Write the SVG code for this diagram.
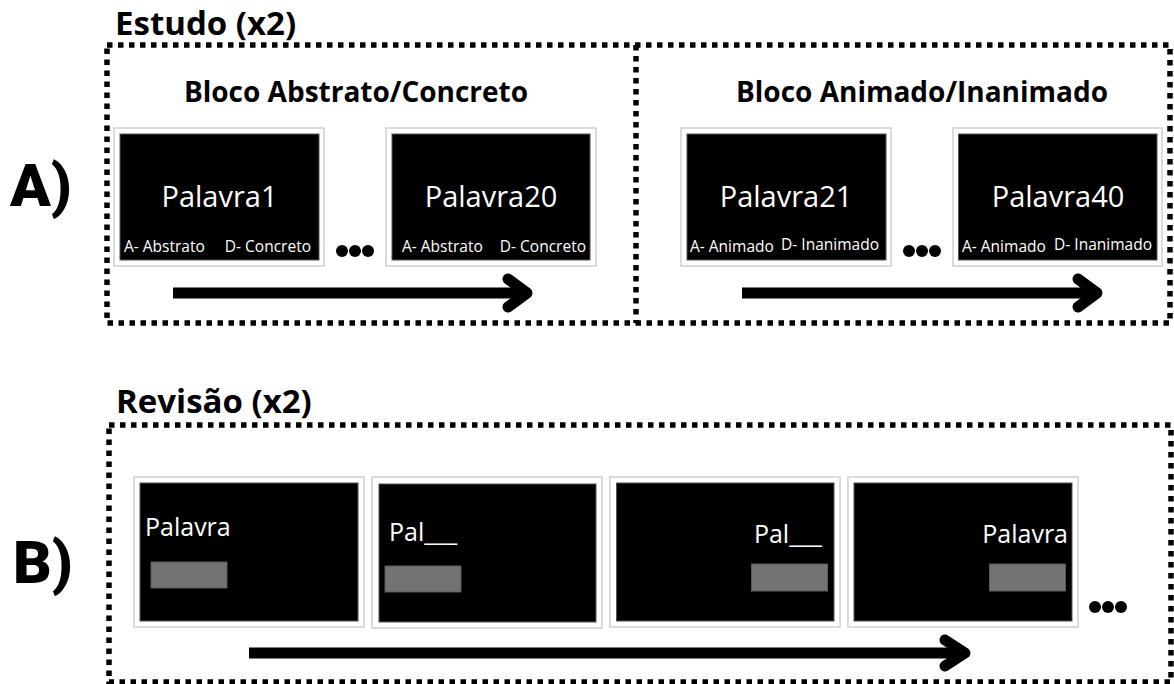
<svg xmlns="http://www.w3.org/2000/svg" width="1174" height="684" viewBox="0 0 1174 684">
<style>
.bg{fill:#fff}
.dotted{fill:none;stroke:#000;stroke-width:5.5;stroke-dasharray:5.5 5.5}
.frame{fill:#fff;stroke:#d0d0d0;stroke-width:1.5}
.screen{fill:#000;stroke:#555;stroke-width:1}
.gray{fill:#737373;stroke:#5a5a5a;stroke-width:1}
.title{font-family:"Open Sans","Liberation Sans",sans-serif;font-weight:700;fill:#000}
.t28{font-size:33px}
.t25{font-size:28px}
.word{font-family:"Open Sans","Liberation Sans",sans-serif;fill:#fff;font-size:29px}
.wordB{font-family:"Open Sans","Liberation Sans",sans-serif;fill:#fff;font-size:25px}
.lab{font-family:"Open Sans","Liberation Sans",sans-serif;fill:#fff;font-size:15.5px}
.big{font-family:Roboto,"Liberation Sans",sans-serif;font-weight:900;font-size:60px;fill:#000}
.line{fill:none;stroke:#000;stroke-width:11}
.head{fill:none;stroke:#000;stroke-width:11;stroke-linecap:round;stroke-linejoin:round}
.dot{fill:#000}
</style>
<rect class="bg" x="0" y="0" width="1174" height="684"/>

<g id="labelA"><text class="big" x="10" y="206">A)</text></g>
<g id="labelB"><text class="big" x="13" y="583">B)</text></g>

<g id="estudo">
<text class="title t28" x="115" y="35">Estudo (x2)</text>
<rect class="dotted" x="107" y="45" width="1063" height="278"/>
<line class="dotted" x1="636" y1="45" x2="636" y2="323"/>
</g>

<g id="blocoAC">
<text class="title t25" x="356" y="102" text-anchor="middle">Bloco Abstrato/Concreto</text>
</g>
<g id="blocoAI">
<text class="title t25" x="922" y="102" text-anchor="middle">Bloco Animado/Inanimado</text>
</g>

<g id="card1">
<rect class="frame" x="114" y="128" width="210" height="138"/>
<rect class="screen" x="120" y="134" width="199" height="126"/>
<text class="word" x="219.5" y="207" text-anchor="middle">Palavra1</text>
<text class="lab" x="124" y="252">A- Abstrato</text>
<text class="lab" x="311" y="252" text-anchor="end">D- Concreto</text>
</g>
<g id="dotsA1">
<circle class="dot" cx="342" cy="251" r="6"/><circle class="dot" cx="355" cy="251" r="6"/><circle class="dot" cx="368" cy="251" r="6"/>
</g>
<g id="card20">
<rect class="frame" x="386" y="128" width="210" height="138"/>
<rect class="screen" x="392" y="134" width="198" height="126"/>
<text class="word" x="491" y="207" text-anchor="middle">Palavra20</text>
<text class="lab" x="402" y="252">A- Abstrato</text>
<text class="lab" x="586" y="252" text-anchor="end">D- Concreto</text>
</g>

<g id="card21">
<rect class="frame" x="681" y="128" width="210" height="138"/>
<rect class="screen" x="687" y="134" width="199" height="126"/>
<text class="word" x="786" y="207" text-anchor="middle">Palavra21</text>
<text class="lab" x="690" y="252">A- Animado</text>
<text class="lab" x="879" y="250" text-anchor="end">D- Inanimado</text>
</g>
<g id="dotsA2">
<circle class="dot" cx="909" cy="251" r="6"/><circle class="dot" cx="922" cy="251" r="6"/><circle class="dot" cx="935" cy="251" r="6"/>
</g>
<g id="card40">
<rect class="frame" x="953" y="128" width="209" height="138"/>
<rect class="screen" x="958.5" y="134" width="198.5" height="126"/>
<text class="word" x="1058" y="207" text-anchor="middle">Palavra40</text>
<text class="lab" x="962" y="252">A- Animado</text>
<text class="lab" x="1152" y="250" text-anchor="end">D- Inanimado</text>
</g>

<g id="revisao">
<text class="title t28" x="116" y="413">Revisão (x2)</text>
<rect class="dotted" x="109" y="425" width="1062" height="257"/>
</g>

<g id="cardB1">
<rect class="frame" x="134" y="477" width="230" height="150"/>
<rect class="screen" x="140" y="483" width="218" height="138"/>
<text class="wordB" x="145" y="536">Palavra</text>
<rect class="gray" x="151" y="562" width="76" height="26"/>
</g>
<g id="cardB2">
<rect class="frame" x="372" y="477" width="230" height="151"/>
<rect class="screen" x="379" y="484" width="217" height="138"/>
<text class="wordB" x="389" y="541">Pal___</text>
<rect class="gray" x="385" y="566" width="76" height="26"/>
</g>
<g id="cardB3">
<rect class="frame" x="610" y="477" width="230" height="150"/>
<rect class="screen" x="616.5" y="483" width="217.5" height="138"/>
<text class="wordB" x="822" y="543" text-anchor="end">Pal___</text>
<rect class="gray" x="751.5" y="564" width="76" height="27"/>
</g>
<g id="cardB4">
<rect class="frame" x="848" y="477" width="230" height="150"/>
<rect class="screen" x="854" y="483" width="218" height="138"/>
<text class="wordB" x="1068" y="543" text-anchor="end">Palavra</text>
<rect class="gray" x="989.5" y="564" width="76" height="27"/>
</g>
<g id="dotsB">
<circle class="dot" cx="1095" cy="607" r="6"/><circle class="dot" cx="1108" cy="607" r="6"/><circle class="dot" cx="1121" cy="607" r="6"/>
</g>

<g id="connectors">
<path class="line" d="M173,293 H524"/>
<path class="head" d="M508,279 L527,293 L508,307"/>
<path class="line" d="M742,293 H1094"/>
<path class="head" d="M1078,279 L1097,293 L1078,307"/>
<path class="line" d="M249,653 H962"/>
<path class="head" d="M945,640 L965,653 L945,666"/>
</g>
</svg>
